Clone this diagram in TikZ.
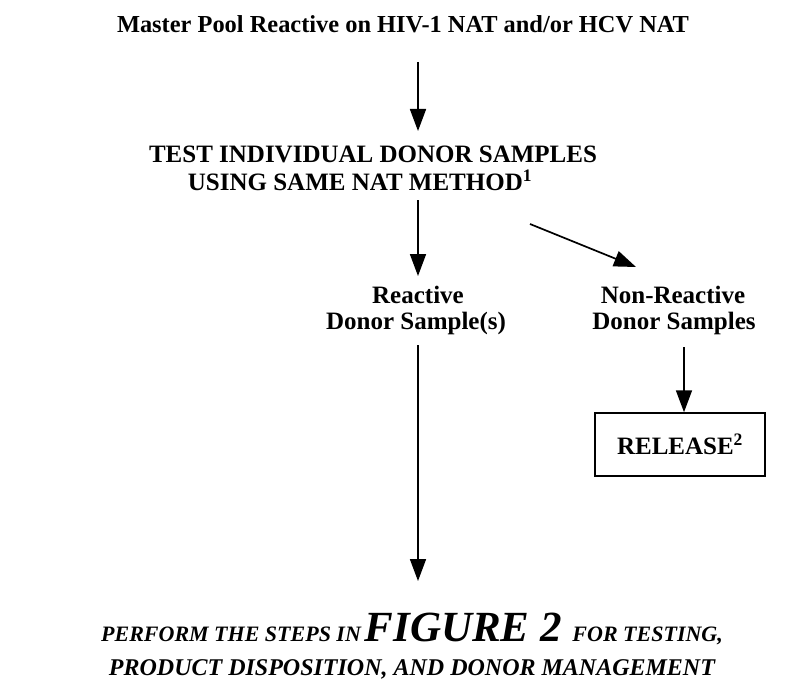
\documentclass[tikz,border=0pt]{standalone}
\usepackage{fontspec}
\setmainfont{Liberation Serif}
\usetikzlibrary{arrows.meta}

\begin{document}
\begin{tikzpicture}[x=1bp,y=-1bp,
  lbl/.style={font=\fontsize{25bp}{29bp}\selectfont\bfseries, inner sep=0pt, anchor=base},
  arr/.style={line width=1.7bp, -{Triangle[length=22bp,width=16bp]}},
  boxed/.style={draw, line width=1.5bp, minimum width=170bp, minimum height=63bp, inner sep=0pt,
    font=\fontsize{25bp}{29bp}\selectfont\bfseries}]
  \useasboundingbox (0,0) rectangle (806,691);

  % headline
  \node[lbl, font=\fontsize{24.4bp}{28bp}\selectfont\bfseries] (title) at (403,33)
    {Master Pool Reactive on HIV-1 NAT and/or HCV NAT};

  % individual testing step
  \node[lbl] (testA) at (373,162) {TEST INDIVIDUAL DONOR SAMPLES};
  \node[lbl] (testB) at (360,190) {USING SAME NAT METHOD\textsuperscript{1}};

  % outcomes
  \node[lbl] (reactA) at (418,303) {Reactive};
  \node[lbl] (reactB) at (416,329) {Donor Sample(s)};
  \node[lbl] (nonA) at (673,303) {Non-Reactive};
  \node[lbl] (nonB) at (674,329) {Donor Samples};

  % release box
  \node[boxed] (rel) at (680,444.5) {RELEASE\textsuperscript{2}};

  % final instruction
  \node[inner sep=0pt, anchor=base, font=\bfseries\itshape] (figA) at (412,641)
    {\fontsize{22bp}{26bp}\selectfont PERFORM THE STEPS IN\,\fontsize{43bp}{46bp}\selectfont FIGURE 2 \fontsize{22bp}{26bp}\selectfont FOR TESTING,};
  \node[inner sep=0pt, anchor=base, font=\fontsize{24bp}{28bp}\selectfont\bfseries\itshape] (figB) at (412,675)
    {PRODUCT DISPOSITION, AND DONOR MANAGEMENT};

  % connector end points
  \coordinate (p1) at (418,62);
  \coordinate (q1) at (418,131);
  \coordinate (p2) at (418,200);
  \coordinate (q2) at (418,276);
  \coordinate (p3) at (530,224);
  \coordinate (q3) at (636,267);
  \coordinate (p4) at (418,345);
  \coordinate (q4) at (418,581);
  \coordinate (p5) at (684,347);

  \draw[arr] (p1) -- (q1);
  \draw[arr] (p2) -- (q2);
  \draw[arr] (p3) -- (q3);
  \draw[arr] (p4) -- (q4);
  \draw[arr] (p5) -- (rel.north -| p5);
\end{tikzpicture}
\end{document}
